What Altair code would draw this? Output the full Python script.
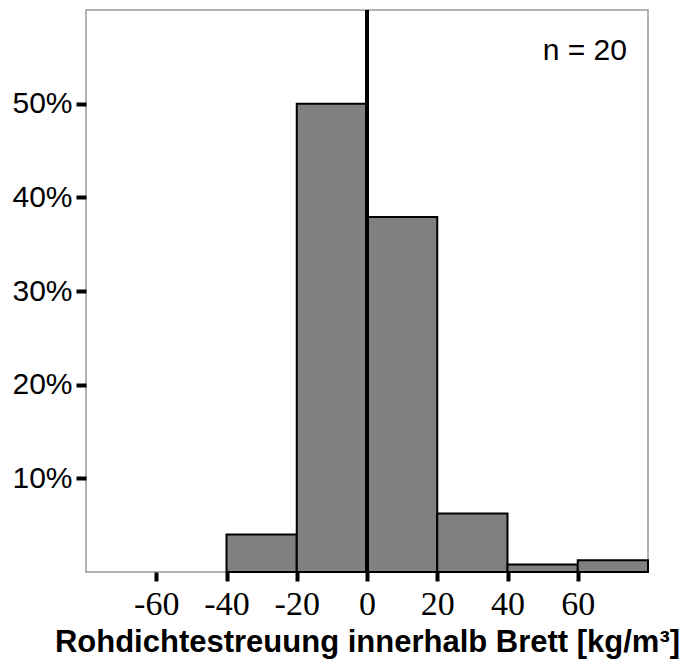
import altair as alt
import pandas as pd

# Histogram of within-board density scatter (share of boards per 20 kg/m³ class)
bin_start = [-40, -20, 0, 20, 40, 60]
bin_end = [-20, 0, 20, 40, 60, 80]
share = [4.0, 50.0, 37.9, 6.25, 0.8, 1.25]

x_ticks = [-60, -40, -20, 0, 20, 40, 60]
y_ticks = [10, 20, 30, 40, 50]
sample_note = "n = 20"

bins = pd.DataFrame({"start": bin_start, "end": bin_end, "share": share})

x_scale = alt.Scale(domain=[-80, 80], nice=False, zero=False)
y_scale = alt.Scale(domain=[0, 60], nice=False)

bars = alt.Chart(bins).mark_rect(
    fill="#808080", stroke="black", strokeWidth=2
).encode(
    x=alt.X(
        "start:Q",
        scale=x_scale,
        title="Rohdichtestreuung innerhalb Brett [kg/m³]",
        axis=alt.Axis(
            values=x_ticks,
            labelExpr="'' + datum.value",
            domain=False,
            grid=False,
            tickColor="black",
            tickWidth=4,
            tickSize=9,
            labelFont="Liberation Sans Narrow",
            labelFontSize=34,
            labelColor="black",
            labelPadding=6,
            titleFont="Liberation Sans",
            titleFontWeight="bold",
            titleFontSize=31,
            titleColor="black",
            titlePadding=6,
        ),
    ),
    x2="end:Q",
    y=alt.Y(
        "share:Q",
        scale=y_scale,
        title=None,
        axis=alt.Axis(
            values=y_ticks,
            labelExpr="datum.value + '%'",
            domain=False,
            grid=False,
            tickColor="black",
            tickWidth=4,
            tickSize=10,
            labelFont="Liberation Sans",
            labelFontSize=30,
            labelColor="black",
            labelPadding=4,
        ),
    ),
    y2=alt.datum(0),
)

zero_line = alt.Chart(pd.DataFrame({"x": [0]})).mark_rule(
    color="black", strokeWidth=4
).encode(x=alt.X("x:Q", scale=x_scale))

note = alt.Chart(pd.DataFrame({"x": [74], "y": [55.6], "t": [sample_note]})).mark_text(
    align="right", baseline="middle", font="Liberation Sans", fontSize=30, color="black"
).encode(
    x=alt.X("x:Q", scale=x_scale),
    y=alt.Y("y:Q", scale=y_scale),
    text="t:N",
)

chart = (
    alt.layer(bars, zero_line, note)
    .properties(
        width=562,
        height=562,
        padding={"left": 86, "top": 10, "right": 40, "bottom": 94},
        autosize=alt.AutoSizeParams(type="none"),
        background="white",
    )
    .configure_view(stroke="#999999", strokeWidth=1.5)
)

chart.save("out.html", embed_options={"renderer": "svg", "actions": False})
